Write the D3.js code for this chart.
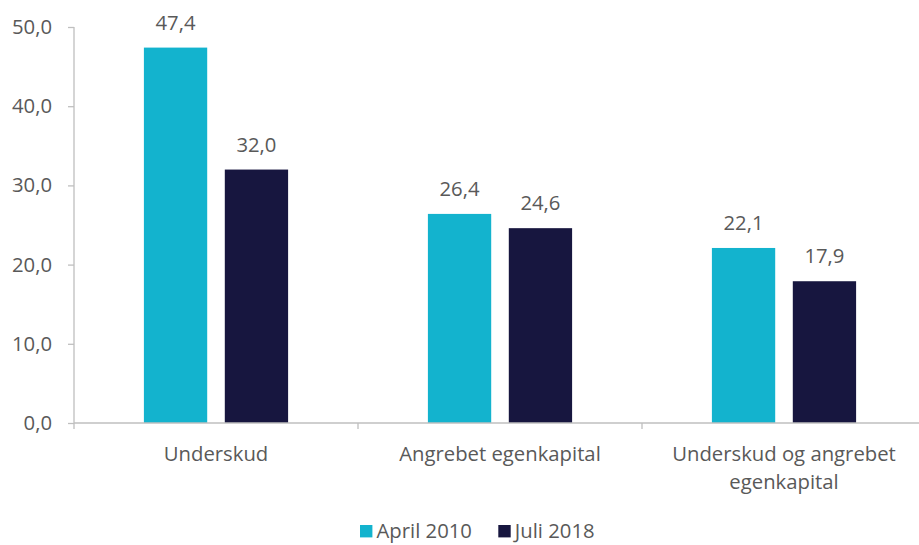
<!DOCTYPE html>
<html>
<head>
<meta charset="utf-8">
<script src="https://cdn.jsdelivr.net/npm/d3@7"></script>
<style>
  html, body { margin: 0; padding: 0; background: #fff; }
  svg text { font-family: "Open Sans", Lato, sans-serif; fill: #595959; }
</style>
</head>
<body>
<svg id="chart" width="919" height="545"></svg>
<script>
const categories = ["Underskud", "Angrebet egenkapital", "Underskud og angrebet egenkapital"];
const categoryLines = [["Underskud"], ["Angrebet egenkapital"], ["Underskud og angrebet", "egenkapital"]];
const seriesNames = ["April 2010", "Juli 2018"];
const april2010 = [47.4, 26.4, 22.1];
const juli2018 = [32.0, 24.6, 17.9];
const yTicks = [0, 10, 20, 30, 40, 50];
const colors = ["#13B3CE", "#17163F"];

const svg = d3.select("#chart");
const fmt = v => v.toFixed(1).replace(".", ",");
const FS = "20.3px";

const pL = 74, pR = 926, pT = 27, pB = 423;
const x = d3.scaleBand().domain(categories).range([pL, pR]).paddingInner(0).paddingOuter(0);
const xInner = d3.scaleBand().domain(seriesNames).range([0, x.bandwidth()]).paddingInner(0.2176).paddingOuter(0.864);
const y = d3.scaleLinear().domain([0, 50]).range([pB, pT]);

// Y axis
const yAxis = d3.axisLeft(y).tickValues(yTicks).tickFormat(fmt).tickSize(6).tickPadding(16);
const gy = svg.append("g").attr("transform", `translate(${pL},0)`).call(yAxis);
gy.selectAll("path, line").attr("stroke", "#BFBFBF").attr("stroke-width", 1.3);
gy.selectAll("text").attr("font-size", FS).attr("fill", "#595959").style("font-family", "'Open Sans', sans-serif");
gy.select(".domain").attr("d", `M0,${pB}V${pT}`);

// bars
const series = [april2010, juli2018];
series.forEach((vals, si) => {
  svg.append("g").selectAll("rect")
    .data(categories.map((c, i) => ({ c, v: vals[i] })))
    .join("rect")
    .attr("x", d => x(d.c) + xInner(seriesNames[si]))
    .attr("width", xInner.bandwidth())
    .attr("y", d => y(d.v))
    .attr("height", d => y(0) - y(d.v))
    .attr("fill", colors[si]);
  svg.append("g").selectAll("text")
    .data(categories.map((c, i) => ({ c, v: vals[i] })))
    .join("text")
    .attr("x", d => x(d.c) + xInner(seriesNames[si]) + xInner.bandwidth() / 2)
    .attr("y", d => y(d.v) - 18)
    .attr("text-anchor", "middle")
    .attr("font-size", FS)
    .text(d => fmt(d.v));
});

// X axis
const gx = svg.append("g").attr("transform", `translate(0,${pB})`);
gx.append("line").attr("x1", pL).attr("x2", pR).attr("stroke", "#BFBFBF").attr("stroke-width", 1.3);
const boundaries = categories.map(c => x(c)).concat([x(categories[categories.length - 1]) + x.bandwidth()]);
gx.selectAll("line.tick").data(boundaries).join("line").attr("class", "tick")
  .attr("x1", d => d).attr("x2", d => d).attr("y1", 0).attr("y2", 6)
  .attr("stroke", "#BFBFBF").attr("stroke-width", 1.3);

categories.forEach((c, i) => {
  const t = gx.append("text").attr("text-anchor", "middle").attr("font-size", FS)
    .attr("x", x(c) + x.bandwidth() / 2).attr("y", 38);
  categoryLines[i].forEach((ln, j) => {
    t.append("tspan").attr("x", x(c) + x.bandwidth() / 2).attr("dy", j === 0 ? 0 : 27.5).text(ln);
  });
});

// legend
const legend = svg.append("g").attr("transform", "translate(360,525)");
const legendX = [0, 138.3];
seriesNames.forEach((s, i) => {
  const g = legend.append("g").attr("transform", `translate(${legendX[i]},0)`);
  g.append("rect").attr("width", 12.4).attr("height", 12.4).attr("fill", colors[i]);
  g.append("text").attr("x", 16.5).attr("y", 12.6).attr("font-size", FS).text(s);
});
</script>
</body>
</html>
